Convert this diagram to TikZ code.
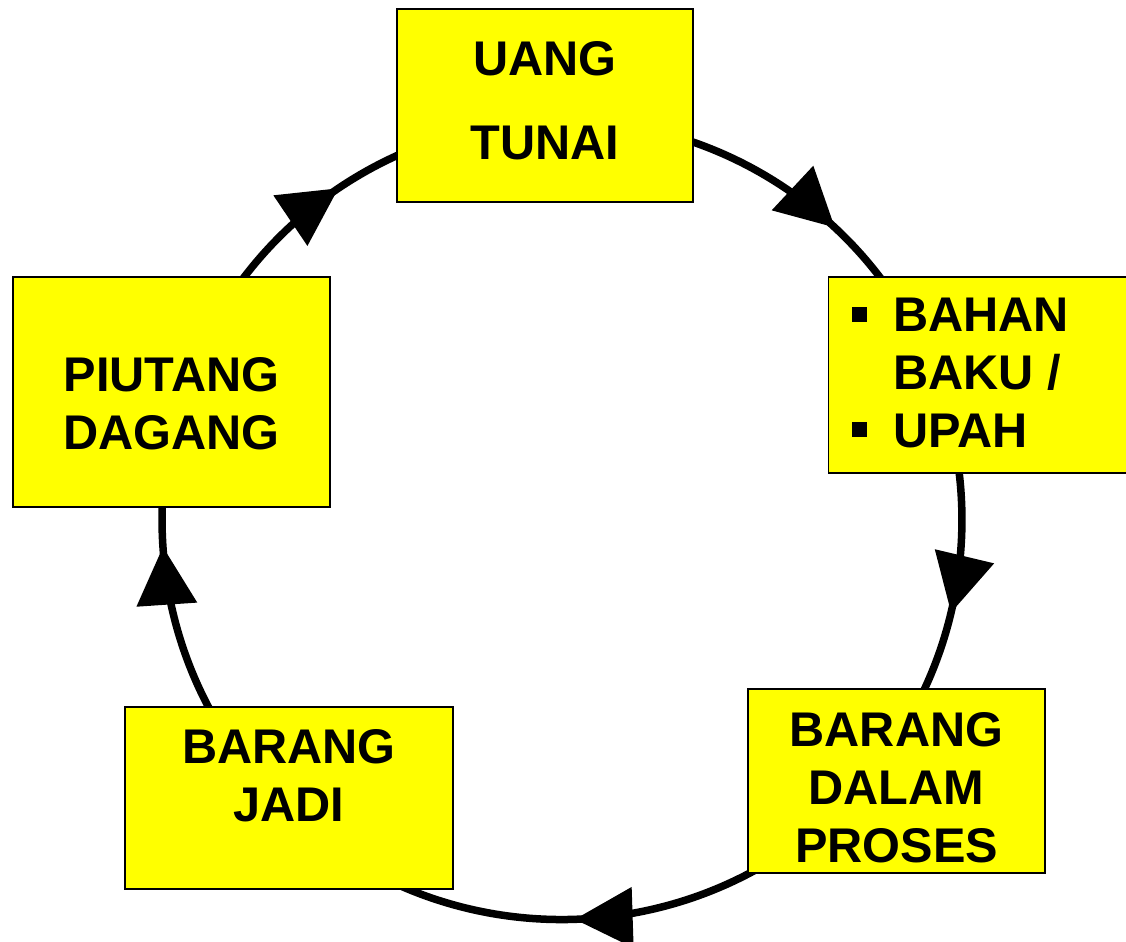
\documentclass[tikz,border=0pt]{standalone}
\usepackage{fontspec}
\setmainfont{Liberation Sans}
\usetikzlibrary{arrows.meta,decorations.markings}

\definecolor{kuning}{RGB}{255,255,0}
\tikzset{
  box/.style={draw=black, line width=0.9pt, fill=kuning, inner sep=0pt},
  lbl/.style={inner sep=0pt, align=center, font=\fontsize{27.7}{33}\selectfont\bfseries},
  ring/.style={line width=0.15cm, postaction={decorate},
    decoration={markings, mark=at position #1 with {\arrow{Triangle[length=1.16cm,width=1.18cm]}}}},
}
\newcommand{\sqbullet}{\makebox[0.82cm][l]{\rule[0.2cm]{0.3cm}{0.3cm}}}

\begin{document}
\begin{tikzpicture}
  \useasboundingbox (0,0) rectangle (22.52,18.82);

  % Lingkaran siklus
  \coordinate (o) at (11.24,8.42);
  \coordinate (cU) at ([shift={(92.3:8)}]o);
  \coordinate (cB) at ([shift={(19.2:8)}]o);
  \coordinate (cP) at ([shift={(-38:8)}]o);
  \coordinate (cJ) at ([shift={(225.5:8)}]o);
  \coordinate (cD) at ([shift={(161.9:8)}]o);

  \draw[ring=0.62] (cU) to[bend left=36.55, looseness=0.946] (cB);
  \draw[ring=0.57] (cB) to[bend left=28.6, looseness=0.907] (cP);
  \draw[ring=0.52] (cP) to[bend left=48.25, looseness=1.021] (cJ);
  \draw[ring=0.655] (cJ) to[bend left=31.8, looseness=0.921] (cD);
  \draw[ring=0.545] (cD) to[bend left=34.8, looseness=0.935] (cU);

  % Kotak-kotak
  \node[box, minimum width=5.92cm, minimum height=3.86cm] (uang) at (10.9,16.71) {};
  \node[box, minimum width=5.98cm, minimum height=3.92cm] (bahan) at (19.56,11.32) {};
  \node[box, minimum width=5.94cm, minimum height=3.68cm] (proses) at (17.93,3.2) {};
  \node[box, minimum width=6.56cm, minimum height=3.64cm] (jadi) at (5.78,2.86) {};
  \node[box, minimum width=6.34cm, minimum height=4.6cm] (piutang) at (3.43,10.98) {};

  % Teks
  \node[lbl] (uang-t) at ([yshift=0.09cm]uang.center) {UANG\\[0.52cm]TUNAI};
  \node[lbl, anchor=west, align=left] (bahan-t) at (17.04,11.36)
    {\sqbullet BAHAN\\\hspace*{0.82cm}BAKU /\\\sqbullet UPAH};
  \node[lbl] (proses-t) at ([yshift=-0.13cm]proses.center) {BARANG\\DALAM\\PROSES};
  \node[lbl] (jadi-t) at ([yshift=0.44cm]jadi.center) {BARANG\\JADI};
  \node[lbl] (piutang-t) at ([yshift=-0.23cm]piutang.center) {PIUTANG\\DAGANG};
\end{tikzpicture}
\end{document}
